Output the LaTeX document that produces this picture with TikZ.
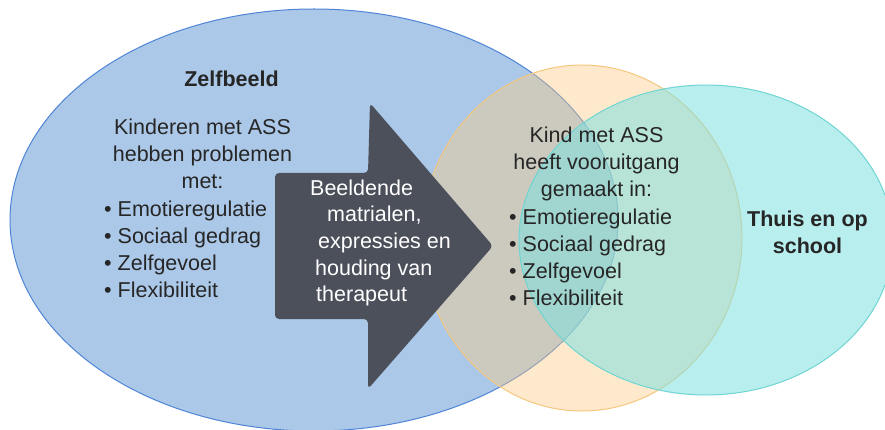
\documentclass[tikz,border=0pt]{standalone}
\usepackage{fontspec}
\setmainfont{Liberation Sans}
\usepackage{xcolor}
\usepackage{tikz}
\definecolor{cSelf}{RGB}{171,200,232}
\definecolor{cSelfLine}{RGB}{79,132,214}
\definecolor{cTher}{RGB}{252,203,133}
\definecolor{cTherLine}{RGB}{245,199,126}
\definecolor{cHome}{RGB}{127,224,224}
\definecolor{cHomeLine}{RGB}{110,213,210}
\definecolor{cArrow}{RGB}{75,80,90}
\definecolor{cText}{RGB}{38,38,38}
\tikzset{
  zone/.style={line width=1pt},
  txt/.style={font=\fontsize{21.5}{27}\selectfont, text=cText, align=center, inner sep=0pt},
  ttl/.style={txt, font=\fontsize{21.5}{26.6}\selectfont\bfseries},
  lst/.style={txt, align=left},
  pijl/.style={fill=cArrow, rounded corners=4pt},
  ptxt/.style={txt, font=\fontsize{21.5}{26.7}\selectfont, text=white, align=left},
}

\begin{document}
\begin{tikzpicture}[x=1pt, y=-1pt]
  \useasboundingbox (0,0) rectangle (885,430);
  \clip (0,0) rectangle (885,430);
  % drie gebieden
  \draw[zone, draw=cSelfLine, fill=cSelf] (314,220) ellipse [x radius=304pt, y radius=211pt];
  \draw[zone, draw=cTherLine, fill=cTher, fill opacity=0.42] (582,238) ellipse [x radius=160pt, y radius=173pt];
  \draw[zone, draw=cHomeLine, fill=cHome, fill opacity=0.55] (706,240) ellipse [x radius=187pt, y radius=155pt];
  % pijl
  \fill[pijl] (275,173) -- (368,173) -- (370,103) -- (493,246) -- (368,389) -- (368,319) -- (275,319) -- cycle;
  % teksten (base = basislijn van de laatste regel)
  \node[ttl, anchor=base] (zelf) at (231.5,86.7) {Zelfbeeld};
  \node[txt, anchor=base] (kind) at (202.5,188.3) {Kinderen met ASS\\hebben problemen\\met:};
  \node[lst, anchor=base west] (prob) at (104,297.8) {\textbullet{} Emotieregulatie\\\textbullet{} Sociaal gedrag\\\textbullet{} Zelfgevoel\\\textbullet{} Flexibiliteit};
  \node[ptxt, anchor=base west] (ther) at (310,301.8) {Beeldende\\\hspace*{17pt}matrialen,\\\hspace*{8pt}expressies en\\\hspace*{5pt}houding van\\\hspace*{6pt}therapeut};
  \node[txt, anchor=base] (vooruit) at (596.5,196.2) {Kind met ASS\\heeft vooruitgang\\gemaakt in:};
  \node[lst, anchor=base west] (winst) at (509,305.8) {\textbullet{} Emotieregulatie\\\textbullet{} Sociaal gedrag\\\textbullet{} Zelfgevoel\\\textbullet{} Flexibiliteit};
  \node[ttl, anchor=base] (thuis) at (807.5,253.3) {Thuis en op\\school};
\end{tikzpicture}
\end{document}
